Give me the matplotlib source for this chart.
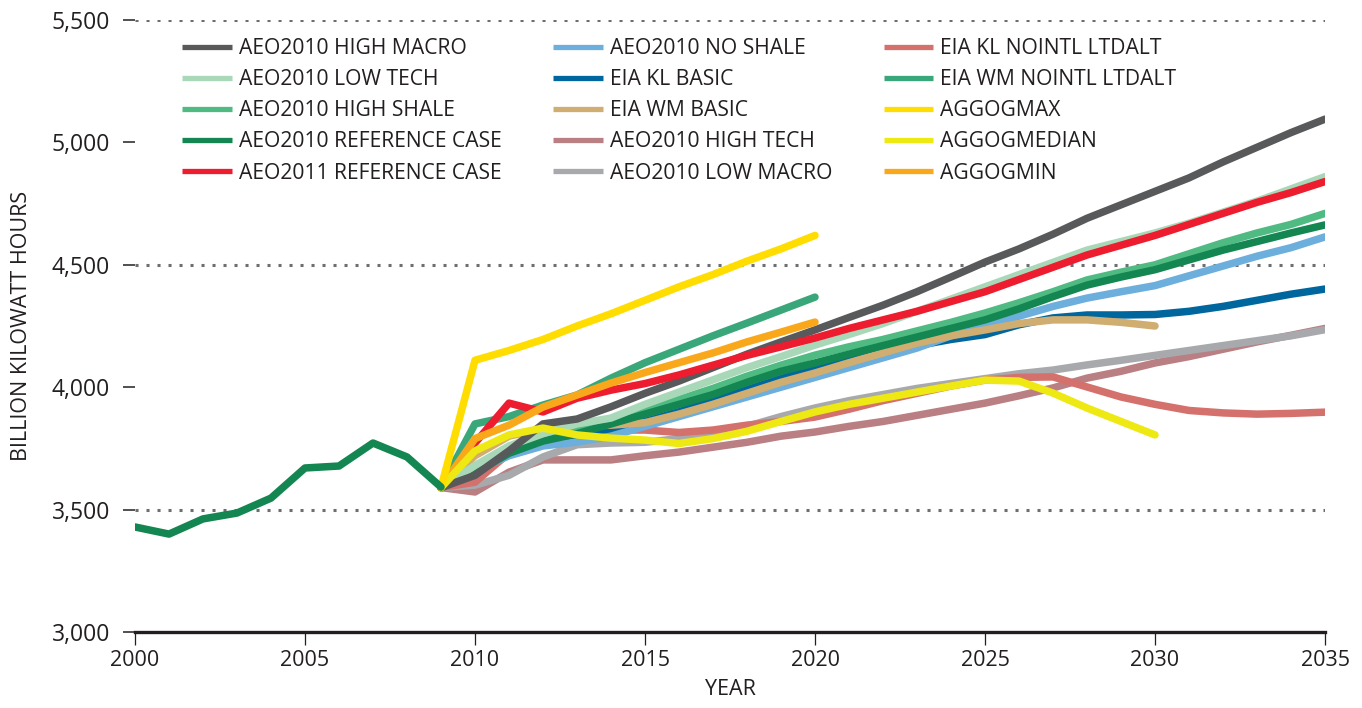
import matplotlib
matplotlib.use("Agg")
import matplotlib.pyplot as plt

plt.rcParams["font.family"] = ["Open Sans", "DejaVu Sans"]

# historical series, 2000-2009
hist_years = list(range(2000, 2010))
hist_values = [3429, 3400, 3462, 3486, 3547, 3670, 3678, 3772, 3715, 3592]

years_35 = list(range(2009, 2036))
years_30 = list(range(2009, 2031))
years_20 = list(range(2009, 2021))

aeo2010_high_macro = [3590, 3640, 3740, 3850, 3870, 3920, 3975, 4025, 4080, 4135, 4185, 4234, 4285, 4335,
                      4390, 4450, 4511, 4565, 4625, 4690, 4745, 4800, 4855, 4920, 4980, 5040, 5095]
aeo2010_low_tech = [3590, 3680, 3760, 3810, 3850, 3874, 3930, 3980, 4030, 4080, 4125, 4172, 4215, 4260,
                    4310, 4360, 4410, 4460, 4510, 4560, 4595, 4630, 4670, 4715, 4760, 4810, 4860]
aeo2010_high_shale = [3590, 3660, 3740, 3790, 3820, 3860, 3905, 3950, 3995, 4045, 4090, 4131, 4165, 4195,
                      4230, 4265, 4303, 4345, 4390, 4438, 4470, 4500, 4545, 4590, 4630, 4665, 4710]
aeo2010_reference = [3590, 3650, 3730, 3780, 3810, 3850, 3890, 3930, 3970, 4020, 4065, 4099, 4135, 4170,
                     4205, 4240, 4275, 4320, 4370, 4417, 4450, 4480, 4520, 4560, 4595, 4630, 4663]
aeo2011_reference = [3590, 3772, 3935, 3899, 3955, 3988, 4015, 4050, 4090, 4130, 4165, 4201, 4240, 4275,
                     4310, 4350, 4390, 4440, 4490, 4540, 4580, 4620, 4665, 4710, 4755, 4795, 4840]
aeo2010_no_shale = [3590, 3660, 3720, 3760, 3776, 3800, 3840, 3880, 3920, 3960, 4000, 4040, 4080, 4120,
                    4160, 4210, 4250, 4290, 4330, 4364, 4390, 4415, 4455, 4495, 4535, 4570, 4614]
eia_kl_basic = [3590, 3650, 3730, 3775, 3800, 3825, 3860, 3900, 3945, 3990, 4035, 4078, 4110, 4140,
                4170, 4195, 4215, 4255, 4283, 4295, 4295, 4297, 4310, 4330, 4355, 4380, 4401]
eia_wm_basic = [3590, 3720, 3800, 3830, 3840, 3845, 3855, 3890, 3930, 3975, 4020, 4058, 4100, 4140,
                4180, 4210, 4234, 4260, 4275, 4275, 4265, 4250]
aeo2010_high_tech = [3590, 3572, 3653, 3703, 3703, 3703, 3720, 3735, 3755, 3775, 3800, 3817, 3840, 3860,
                     3885, 3910, 3935, 3965, 3997, 4037, 4065, 4099, 4125, 4155, 4185, 4212, 4240]
aeo2010_low_macro = [3590, 3600, 3640, 3715, 3765, 3772, 3775, 3790, 3810, 3840, 3880, 3915, 3945, 3970,
                     3995, 4015, 4035, 4055, 4070, 4091, 4110, 4130, 4150, 4170, 4190, 4210, 4235]
eia_kl_nointl_ltdalt = [3590, 3612, 3731, 3792, 3800, 3825, 3825, 3815, 3825, 3845, 3860, 3878, 3910, 3945,
                        3975, 4005, 4029, 4040, 4042, 4001, 3960, 3930, 3905, 3895, 3890, 3893, 3898]
eia_wm_nointl_ltdalt = [3590, 3850, 3880, 3927, 3968, 4037, 4100, 4155, 4210, 4262, 4315, 4368]
aggogmax = [3590, 4110, 4150, 4195, 4250, 4300, 4355, 4410, 4460, 4515, 4565, 4620]
aggogmedian = [3590, 3740, 3805, 3833, 3805, 3792, 3784, 3770, 3790, 3820, 3860, 3899, 3930, 3955,
               3980, 4005, 4029, 4025, 3976, 3915, 3860, 3805]
aggogmin = [3590, 3790, 3845, 3919, 3968, 4017, 4060, 4100, 4140, 4185, 4225, 4266]

# (label, years, values, colour) in legend order (column by column)
series = [
    ("AEO2010 HIGH MACRO", years_35, aeo2010_high_macro, "#58595b"),
    ("AEO2010 LOW TECH", years_35, aeo2010_low_tech, "#a9d8b8"),
    ("AEO2010 HIGH SHALE", years_35, aeo2010_high_shale, "#4fbb82"),
    ("AEO2010 REFERENCE CASE", years_35, aeo2010_reference, "#138651"),
    ("AEO2011 REFERENCE CASE", years_35, aeo2011_reference, "#ed1c2e"),
    ("AEO2010 NO SHALE", years_35, aeo2010_no_shale, "#6caedc"),
    ("EIA KL BASIC", years_35, eia_kl_basic, "#00679e"),
    ("EIA WM BASIC", years_30, eia_wm_basic, "#d0ad70"),
    ("AEO2010 HIGH TECH", years_35, aeo2010_high_tech, "#b97f82"),
    ("AEO2010 LOW MACRO", years_35, aeo2010_low_macro, "#a7a9ac"),
    ("EIA KL NOINTL LTDALT", years_35, eia_kl_nointl_ltdalt, "#d4716c"),
    ("EIA WM NOINTL LTDALT", years_20, eia_wm_nointl_ltdalt, "#3aa77a"),
    ("AGGOGMAX", years_20, aggogmax, "#ffdd00"),
    ("AGGOGMEDIAN", years_30, aggogmedian, "#eee813"),
    ("AGGOGMIN", years_20, aggogmin, "#f9a81b"),
]
draw_order = [
    "AEO2010 HIGH TECH", "AEO2010 LOW MACRO", "EIA KL NOINTL LTDALT", "EIA KL BASIC",
    "AEO2010 NO SHALE", "EIA WM BASIC", "AEO2010 HIGH SHALE", "AEO2010 REFERENCE CASE",
    "AEO2010 LOW TECH", "AEO2010 HIGH MACRO", "EIA WM NOINTL LTDALT", "AEO2011 REFERENCE CASE",
    "AGGOGMIN", "AGGOGMEDIAN", "AGGOGMAX",
]

text_color = "#231f20"
narrow = ["Liberation Sans Narrow", "Open Sans", "DejaVu Sans"]

fig = plt.figure(figsize=(13.62, 7.08), dpi=100)
ax = fig.add_axes([135 / 1362, 76 / 708, 1190 / 1362, 612 / 708])

handles = {}
for z, name in enumerate(draw_order):
    label, xs, ys, color = next(s for s in series if s[0] == name)
    (line,) = ax.plot(xs, ys, color=color, lw=5.4, solid_capstyle="round",
                      solid_joinstyle="round", label=label, zorder=3 + z)
    handles[label] = line
ax.plot(hist_years, hist_values, color="#138651", lw=5.4, solid_capstyle="round",
        solid_joinstyle="round", zorder=30)

for level in (3500, 4500, 5500):
    ax.axhline(level, color="#6d6e71", lw=2.2, linestyle=(0, (1, 2.6)), zorder=1)

ax.set_xlim(2000, 2035)
ax.set_ylim(3000, 5500)
ax.set_xticks(range(2000, 2036, 5))
ax.set_yticks(range(3000, 5501, 500))
ax.set_yticklabels([f"{v:,}" for v in range(3000, 5501, 500)])
for side in ("left", "right", "top"):
    ax.spines[side].set_visible(False)
ax.spines["bottom"].set_linewidth(2.4)
ax.spines["bottom"].set_color(text_color)
ax.spines["bottom"].set_zorder(40)
ax.tick_params(axis="y", length=9, width=1.1, color=text_color, labelcolor=text_color,
               labelsize=16.5, pad=9)
ax.tick_params(axis="x", length=9, width=0.9, color=text_color, labelcolor=text_color,
               labelsize=15.5, pad=4)
for lbl in ax.get_xticklabels():
    lbl.set_family(narrow)

ax.set_xlabel("YEAR", family=narrow, fontsize=15.5, color=text_color, labelpad=6)
ax.set_ylabel("BILLION KILOWATT HOURS", family=narrow, fontsize=15.5, color=text_color,
              labelpad=14)

leg = fig.legend([handles[s[0]] for s in series], [s[0] for s in series], ncol=3,
                 loc="upper left", bbox_to_anchor=(182 / 1362, 1 - 38 / 708), frameon=False,
                 fontsize=15.2, handlelength=2.35, handletextpad=0.33, columnspacing=2.45,
                 labelspacing=0.48, borderpad=0, borderaxespad=0)
for t in leg.get_texts():
    t.set_color(text_color)
for h in leg.get_lines():
    h.set_linewidth(3.8)
    h.set_solid_capstyle("butt")

fig.savefig("out.png", dpi=100)
